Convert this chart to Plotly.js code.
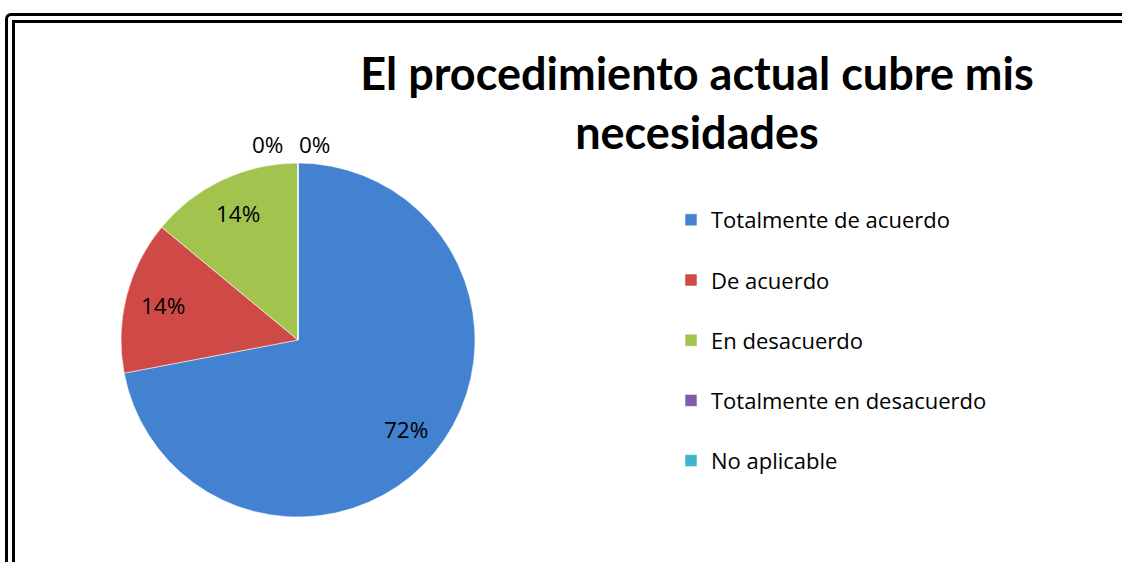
<!DOCTYPE html>
<html>
<head>
<meta charset="utf-8">
<script src="https://cdn.plot.ly/plotly-3.0.1.min.js"></script>
<style>
  html, body { margin: 0; padding: 0; background: #ffffff; overflow: hidden; }
  #wrap { position: relative; width: 1122px; height: 562px; }
  #frame { position: absolute; left: 5px; top: 13px; width: 1300px; height: 700px;
           border-left: 10px double #000; border-top: 10px double #000;
           border-top-left-radius: 6px; box-sizing: border-box; }
  #chart { position: absolute; left: 0; top: 0; width: 1122px; height: 562px; }
</style>
</head>
<body>
<div id="wrap">
  <div id="frame"></div>
  <div id="chart"></div>
</div>
<script>
const categories = ['Totalmente de acuerdo', 'De acuerdo', 'En desacuerdo', 'Totalmente en desacuerdo', 'No aplicable'];
const values = [72, 14, 14, 0, 0];
const colors = ['#4382d0', '#cf4a46', '#a2c44f', '#7d5ea6', '#3fb3cf'];
const titleText = 'El procedimiento actual cubre mis<br>necesidades';

const W = 1122, H = 562;
const cx = 298, cy = 340, r = 177;

// data labels placed along each slice's mid-angle (Excel style)
const total = values.reduce((a, b) => a + b, 0);
const annotations = [];
let cum = 0;
let zeroIdx = 0;
values.forEach((v, i) => {
  const frac = v / total;
  const mid = (cum + frac / 2) * 2 * Math.PI; // clockwise from top
  cum += frac;
  const txt = Math.round(frac * 100) + '%';
  let px, py;
  if (frac > 0) {
    const d = 0.79 * r;
    px = cx + d * Math.sin(mid);
    py = cy - d * Math.cos(mid);
  } else {
    // zero slices: outside, just above the top of the pie, spread left/right
    px = cx + (zeroIdx === 0 ? -31 : 16);
    py = cy - r - 19;
    zeroIdx++;
  }
  annotations.push({
    text: txt, showarrow: false,
    xref: 'paper', yref: 'paper',
    x: px / W, y: 1 - py / H, xanchor: 'center', yanchor: 'middle',
    font: { family: 'Open Sans, sans-serif', size: 22.5, color: '#000000' }
  });
});

const trace = {
  type: 'pie',
  labels: categories.map(c => c + '<br> '),
  values: values,
  sort: false,
  direction: 'clockwise',
  rotation: 0,
  marker: { colors: colors, line: { color: 'rgba(255,255,255,0.55)', width: 1 } },
  textinfo: 'none',
  textposition: 'none',
  domain: { x: [(cx - r) / W, (cx + r) / W], y: [1 - (cy + r) / H, 1 - (cy - r) / H] },
  hoverinfo: 'label+percent'
};

const layout = {
  width: W, height: H,
  margin: { l: 0, r: 0, t: 0, b: 0 },
  paper_bgcolor: 'rgba(0,0,0,0)',
  plot_bgcolor: 'rgba(0,0,0,0)',
  title: {
    text: titleText,
    font: { family: 'Lato, sans-serif', size: 45, color: '#000000', weight: 'bold' },
    xref: 'container', yref: 'container',
    x: 697 / W, xanchor: 'center',
    y: 1 - 90 / H, yanchor: 'top'
  },
  annotations: annotations,
  showlegend: true,
  legend: {
    x: 671 / W, xanchor: 'left',
    y: 1 - 199 / H, yanchor: 'top',
    valign: 'top',
    font: { family: 'Open Sans, sans-serif', size: 22, color: '#000000' },
    bgcolor: 'rgba(0,0,0,0)'
  }
};

Plotly.newPlot('chart', [trace], layout, { displayModeBar: false, staticPlot: true });
</script>
</body>
</html>
